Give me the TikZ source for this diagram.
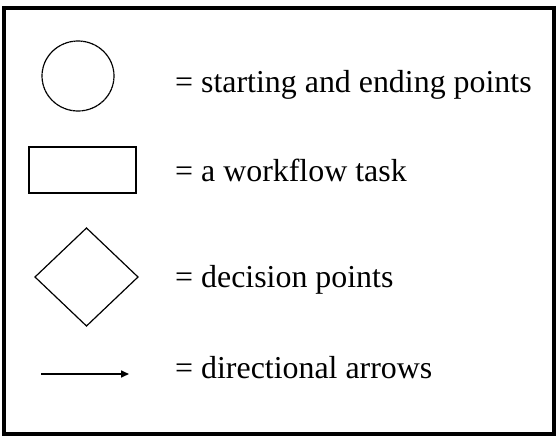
\documentclass[tikz,border=0pt]{standalone}
\usepackage{fontspec}
\setmainfont{Liberation Serif}
\usetikzlibrary{arrows.meta}
\begin{document}
\begin{tikzpicture}[x=1pt,y=-1pt,
  shapeline/.style={draw=black,line width=1.2pt},
  legendtext/.style={anchor=base west,inner sep=0pt,font=\fontsize{31.9}{36}\selectfont}]
\useasboundingbox (0,0) rectangle (556,444);
\draw[line width=4pt] (3.5,8) rectangle (553.5,434);
% circle
\draw[shapeline,dash pattern=on 4pt off 0.4pt] (78,76) ellipse [x radius=36,y radius=35];
\node[legendtext] (t1) at (175,92) {= starting and ending points};
% rectangle
\draw[shapeline,line width=1.6pt] (29,147) rectangle (136,193);
\node[legendtext] (t2) at (175,181.5) {= a workflow task};
% diamond
\draw[shapeline] (86.5,228) -- (138,277) -- (86.5,326) -- (35,277) -- cycle;
\node[legendtext] (t3) at (175,287) {= decision points};
% arrow
\coordinate (a1) at (41,374);
\coordinate (a2) at (129,374);
\draw[line width=1.6pt,-{Triangle[length=8pt,width=7pt]}] (a1) -- (a2);
\node[legendtext] (t4) at (175,378.5) {= directional arrows};
\end{tikzpicture}
\end{document}
